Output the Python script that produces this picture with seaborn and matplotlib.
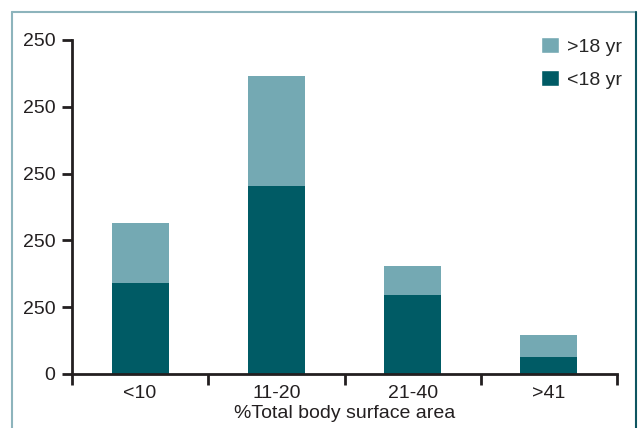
import matplotlib
matplotlib.use("Agg")
import matplotlib.pyplot as plt
import seaborn as sns
import pandas as pd
from matplotlib.lines import Line2D
from matplotlib.patches import Patch

# =====================================================
# Data
# =====================================================
categories = ["<10", "11-20", "21-40", ">41"]
under_18 = [68, 141, 59, 13]
over_18 = [45, 82, 22, 16]
y_ticks = [0, 50, 100, 150, 200, 250]
y_tick_labels = ["0", "250", "250", "250", "250", "250"]

DARK = "#005B65"
LIGHT = "#74A9B3"
AXIS = "#231F20"
FS = 14

df = pd.DataFrame({
    "area": categories,
    "under": under_18,
    "total": [u + o for u, o in zip(under_18, over_18)],
})

sns.set_style("white")
plt.rcParams["font.family"] = ["Liberation Sans", "DejaVu Sans"]

fig = plt.figure(figsize=(6.4, 4.28), dpi=100)
ax = fig.add_axes([72 / 640, 54 / 428, 545 / 640, 334 / 428])

# =====================================================
# Stacked bars: total (light) then <18 (dark) on top
# =====================================================
sns.barplot(data=df, x="area", y="total", color=LIGHT, width=0.42,
            saturation=1, linewidth=0, ax=ax)
sns.barplot(data=df, x="area", y="under", color=DARK, width=0.42,
            saturation=1, linewidth=0, ax=ax)

ax.set_xlim(-0.5, 3.5)
ax.set_ylim(0, 250)

# ticks between categories, labels centred on bars
ax.set_xticks([i for i in range(len(categories))])
ax.set_xticklabels(categories, fontsize=FS, color=AXIS)
ax.set_xticks([i - 0.5 for i in range(len(categories) + 1)], minor=True)
ax.tick_params(axis="x", which="major", length=0, pad=8)
ax.tick_params(axis="x", which="minor", length=8, width=2, color=AXIS,
               direction="out", bottom=True)

ax.set_yticks(y_ticks)
ax.set_yticklabels(y_tick_labels, fontsize=FS, color=AXIS)
ax.tick_params(axis="y", length=7, width=2, color=AXIS, direction="out",
               left=True, pad=5)

ax.set_xlabel("%Total body surface area", fontsize=FS, color=AXIS,
              labelpad=2)
ax.set_ylabel("")

for side in ["top", "right"]:
    ax.spines[side].set_visible(False)
for side in ["left", "bottom"]:
    ax.spines[side].set_color(AXIS)
    ax.spines[side].set_linewidth(2)

# =====================================================
# Legend
# =====================================================
handles = [Patch(facecolor=LIGHT, label=">18 yr"),
           Patch(facecolor=DARK, label="<18 yr")]
fig.legend(handles=handles, loc="upper left",
           bbox_to_anchor=(541 / 640, 1 - 37 / 428), frameon=False,
           fontsize=FS, handlelength=0.9, handleheight=0.9,
           handletextpad=0.45, labelspacing=0.72, borderpad=0,
           borderaxespad=0)

# =====================================================
# Figure border (left/top light, right dark)
# =====================================================
fig.add_artist(Line2D([12 / 640, 12 / 640], [0, 1 - 12 / 428],
                      transform=fig.transFigure, color="#8DB4BC", lw=1.5))
fig.add_artist(Line2D([12 / 640, 636 / 640], [1 - 12 / 428, 1 - 12 / 428],
                      transform=fig.transFigure, color="#8DB4BC", lw=1.5))
fig.add_artist(Line2D([636 / 640, 636 / 640], [0, 1 - 12 / 428],
                      transform=fig.transFigure, color="#0E5560", lw=1.5))

fig.savefig("out.png", dpi=100)
